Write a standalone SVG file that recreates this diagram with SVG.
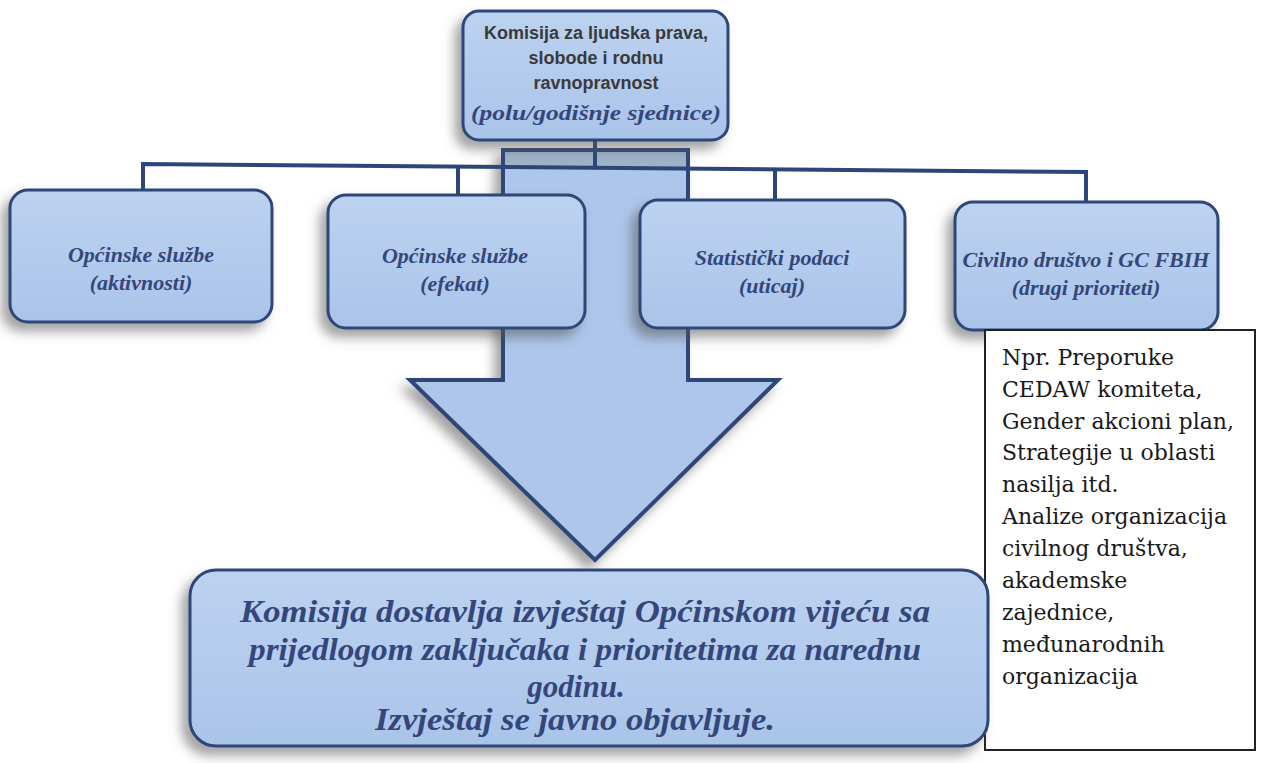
<svg xmlns="http://www.w3.org/2000/svg" width="1266" height="763" viewBox="0 0 1266 763">
<defs>
<linearGradient id="bg" x1="0" y1="0" x2="0" y2="1">
<stop offset="0" stop-color="#bcd2f0"/>
<stop offset="1" stop-color="#aac4e9"/>
</linearGradient>
<filter id="sh" x="-20%" y="-20%" width="140%" height="150%">
<feDropShadow dx="-7" dy="8" stdDeviation="6" flood-color="#555" flood-opacity="0.55"/>
</filter>
<style>
.box{fill:url(#bg);stroke:#2d4679;stroke-width:3}
.conn{fill:none;stroke:#2d4679;stroke-width:4}
.bt{font-family:"Liberation Serif",serif;font-weight:bold;font-style:italic;fill:#34467a;text-anchor:middle}
.tt{font-family:"Liberation Sans",Arial,sans-serif;font-weight:bold;fill:#3a3a3a;text-anchor:middle;font-size:18px}
.nt{font-family:"DejaVu Serif",serif;fill:#1a1a1a;font-size:22px}
</style>
</defs>
<rect width="1266" height="763" fill="#ffffff"/>
<g id="arrow">
<polygon points="503,150 688,150 688,380 778,380 595,560 410,380 503,380" fill="#adc6ea" stroke="#2d4679" stroke-width="4" filter="url(#sh)"/>
<rect x="505" y="152" width="181" height="16" fill="#9fb3c8"/>
</g>
<g id="connectors">
<polyline class="conn" points="595,140 595,168"/>
<polyline class="conn" points="143,192 143,164 1086,172 1086,202"/>
<polyline class="conn" points="458,196 458,166"/>
<polyline class="conn" points="775,201 775,168"/>
</g>
<g id="top">
<rect class="box" x="463" y="11" width="265" height="129" rx="16" filter="url(#sh)"/>
<text class="tt" x="596" y="39">Komisija za ljudska prava,</text>
<text class="tt" x="596" y="64">slobode i rodnu</text>
<text class="tt" x="596" y="89">ravnopravnost</text>
<text class="bt" x="596" y="120" font-size="22" textLength="250" lengthAdjust="spacingAndGlyphs">(polu/godišnje sjednice)</text>
</g>
<g id="n1">
<rect class="box" x="10" y="190" width="262" height="132" rx="18" filter="url(#sh)"/>
<text class="bt" x="141" y="262" font-size="22">Općinske službe</text>
<text class="bt" x="141" y="290" font-size="22">(aktivnosti)</text>
</g>
<g id="n2">
<rect class="box" x="328" y="195" width="257" height="133" rx="18" filter="url(#sh)"/>
<text class="bt" x="455" y="263" font-size="22">Općinske službe</text>
<text class="bt" x="455" y="291" font-size="22">(efekat)</text>
</g>
<g id="n3">
<rect class="box" x="640" y="200" width="265" height="128" rx="18" filter="url(#sh)"/>
<text class="bt" x="772" y="265" font-size="22">Statistički podaci</text>
<text class="bt" x="772" y="293" font-size="22">(uticaj)</text>
</g>
<g id="n4">
<rect class="box" x="955" y="202" width="263" height="128" rx="18" filter="url(#sh)"/>
<text class="bt" x="1086" y="267" font-size="22">Civilno društvo i GC FBIH</text>
<text class="bt" x="1086" y="295" font-size="22">(drugi prioriteti)</text>
</g>
<g id="note">
<rect x="985" y="330" width="270" height="420" fill="#ffffff" stroke="#222" stroke-width="2"/>
<text class="nt" x="1002" y="365">Npr. Preporuke</text>
<text class="nt" x="1002" y="397">CEDAW komiteta,</text>
<text class="nt" x="1002" y="429">Gender akcioni plan,</text>
<text class="nt" x="1002" y="460">Strategije u oblasti</text>
<text class="nt" x="1002" y="492">nasilja itd.</text>
<text class="nt" x="1002" y="524">Analize organizacija</text>
<text class="nt" x="1002" y="556">civilnog društva,</text>
<text class="nt" x="1002" y="588">akademske</text>
<text class="nt" x="1002" y="620">zajednice,</text>
<text class="nt" x="1002" y="652">međunarodnih</text>
<text class="nt" x="1002" y="684">organizacija</text>
</g>
<g id="bottom">
<rect class="box" x="190" y="570" width="798" height="176" rx="26" filter="url(#sh)"/>
<text class="bt" x="585" y="622" font-size="31" textLength="690" lengthAdjust="spacingAndGlyphs">Komisija dostavlja izvještaj Općinskom vijeću sa</text>
<text class="bt" x="585" y="660" font-size="31" textLength="672" lengthAdjust="spacingAndGlyphs">prijedlogom zaključaka i prioritetima za narednu</text>
<text class="bt" x="576" y="697" font-size="31">godinu.</text>
<text class="bt" x="575" y="730" font-size="31" textLength="400" lengthAdjust="spacingAndGlyphs">Izvještaj se javno objavljuje.</text>
</g>
</svg>
